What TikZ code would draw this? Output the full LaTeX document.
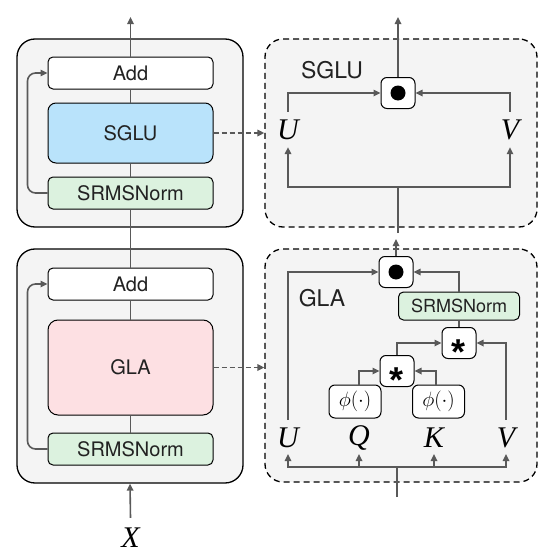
\documentclass[tikz,border=0pt]{standalone}
\usepackage{fontspec}
\setmainfont{TeX Gyre Heros}
\newfontfamily\tms{Liberation Serif}
\newfontfamily\arl{Liberation Sans}
\usetikzlibrary{arrows.meta}
\definecolor{lc}{HTML}{595959}
\definecolor{bg}{HTML}{F4F4F4}
\definecolor{sgblue}{HTML}{B9E3FB}
\definecolor{glpink}{HTML}{FDE0E3}
\definecolor{ngreen}{HTML}{DCF2DF}
\definecolor{tx}{HTML}{222222}
\newcommand\starop{\raisebox{-21.4pt}[0pt][0pt]{\fontsize{36}{36}\selectfont\arl\bfseries *}}
\newcommand\mv[1]{{\tms\itshape #1}}
\begin{document}
\begin{tikzpicture}[x=1pt,y=-1pt,
  ln/.style={draw=lc,line width=1.6pt},
  ar/.style={ln,-{Triangle[length=7pt,width=6.5pt]}},
  outer/.style={draw=black,line width=1.3pt,fill=bg,rounded corners=18pt,minimum width=226pt,inner sep=0pt},
  dbox/.style={draw=black,line width=1.3pt,fill=bg,rounded corners=18pt,dash pattern=on 6pt off 4pt,minimum width=272pt,inner sep=0pt},
  blk/.style={draw=black,line width=1pt,rounded corners=5pt,minimum width=165pt,minimum height=32pt,inner sep=0pt,text=tx,font=\fontsize{20}{24}\selectfont},
  op/.style={draw=black,line width=1pt,fill=white,rounded corners=6pt,minimum width=34pt,minimum height=31pt,inner sep=0pt},
  phibox/.style={draw=black,line width=1pt,fill=white,rounded corners=6pt,minimum width=52pt,minimum height=33pt,inner sep=0pt,font=\fontsize{22}{24}\selectfont},
  mth/.style={inner sep=0pt,font=\fontsize{30}{32}\selectfont},
  lbl/.style={inner sep=0pt,text=tx,font=\fontsize{23}{26}\selectfont}
]
\useasboundingbox (0,0) rectangle (555,554);

% ---------- left column ----------
\node[outer,minimum height=188pt] (oT) at (130,133) {};
\node[outer,minimum height=234pt] (oB) at (130,366) {};
\node[blk,fill=white] (addT) at (130.5,73) {Add};
\node[blk,fill=sgblue,minimum height=60pt,rounded corners=8pt] (sgT) at (130.5,133) {SGLU};
\node[blk,fill=ngreen] (nT) at (130.5,193) {SRMSNorm};
\node[blk,fill=white] (addB) at (130.5,284) {Add};
\node[blk,fill=glpink,minimum height=95pt,rounded corners=10pt] (glB) at (130.5,367.5) {GLA};
\node[blk,fill=ngreen] (nB) at (130.5,449) {SRMSNorm};
\node[mth] (X) at (130.5,538) {\mv{X}};
\coordinate (topout) at (130.5,17);

\draw[ar] (addT.north) -- (topout);
\draw[ln] (addT.south) -- (sgT.north);
\draw[ln] (sgT.south) -- (nT.north);
\draw[ln] (nT.south) -- (addB.north);
\draw[ln] (addB.south) -- (glB.north);
\draw[ln] (glB.south) -- (nB.north);
\draw[ar] ([yshift=10pt]X.north) -- (oB.south);
\draw[ar,rounded corners=8pt] (nT.west) -- ++(-20,0) |- (addT.west);
\draw[ar,rounded corners=8pt] (nB.west) -- ++(-20,0) |- (addB.west);

% ---------- right boxes ----------
\node[dbox,minimum height=188pt] (dT) at (401,133) {};
\node[dbox,minimum height=233pt] (dB) at (401,365.5) {};
\draw[ar,dash pattern=on 5pt off 3pt] (sgT.east) -- (dT.west |- sgT.east);
\draw[ar,dash pattern=on 5pt off 3pt] (glB.east) -- (dB.west |- glB.east);

% ---------- SGLU detail ----------
\node[op] (od1) at (398,93) {};
\fill[black] (od1.center) circle (7.5pt);
\node[lbl] (sgl) at (332,70) {SGLU};
\node[mth] (U1) at (288,130) {\mv{U}};
\node[mth] (V1) at (510,130) {\mv{V}};
\coordinate (sgout) at (398,17);
\coordinate (sgin) at (398,233);
\coordinate (sgbr) at (398,187);
\draw[ar] (od1.north) -- (sgout);
\draw[ar] ([yshift=8pt]U1.north) |- (od1.west);
\draw[ar] ([yshift=8pt]V1.north) |- (od1.east);
\draw[ln] (sgin) -- (sgbr);
\draw[ar] (sgbr) -| ([yshift=-7pt]U1.south);
\draw[ar] (sgbr) -| ([yshift=-7pt]V1.south);

% ---------- GLA detail ----------
\node[op] (od2) at (396,272) {};
\fill[black] (od2.center) circle (7.5pt);
\node[lbl] (gll) at (322,298) {GLA};
\node[draw=black,line width=1pt,fill=ngreen,rounded corners=5pt,minimum width=121pt,minimum height=28pt,inner sep=0pt,text=tx,font=\fontsize{18}{20}\selectfont] (n2) at (459,306) {SRMSNorm};
\node[op] (st2) at (459,343) {\starop};
\node[op] (st1) at (397,371) {\starop};
\node[phibox] (ph1) at (355,401.5) {$\phi(\cdot)$};
\node[phibox] (ph2) at (438.5,401.5) {$\phi(\cdot)$};
\node[mth] (U2) at (288,438) {\mv{U}};
\node[mth] (Q) at (359,438) {\mv{Q}};
\node[mth] (K) at (434,438) {\mv{K}};
\node[mth] (V2) at (506,438) {\mv{V}};
\coordinate (glout) at (396,239);
\coordinate (glin) at (397,497);
\coordinate (glbr) at (397,467);
\coordinate (tipl) at (0,454);

\draw[ar] (od2.north) -- (glout);
\draw[ar] ([yshift=8pt]U2.north) |- (od2.west);
\draw[ar] (n2.north) |- (od2.east);
\draw[ln] (st2.north) -- (n2.south);
\draw[ar] ([yshift=8pt]V2.north) |- (st2.east);
\draw[ar] (st1.north) |- (st2.west);
\draw[ar] ([xshift=4pt]ph1.north) |- (st1.west);
\draw[ar] ([xshift=-2.5pt]ph2.north) |- (st1.east);
\draw[ln] (glin) -- (glbr);
\draw[ar] (glbr) -| (U2 |- tipl);
\draw[ar] (glbr) -| (Q |- tipl);
\draw[ar] (glbr) -| (K |- tipl);
\draw[ar] (glbr) -| (V2 |- tipl);
\end{tikzpicture}
\end{document}
